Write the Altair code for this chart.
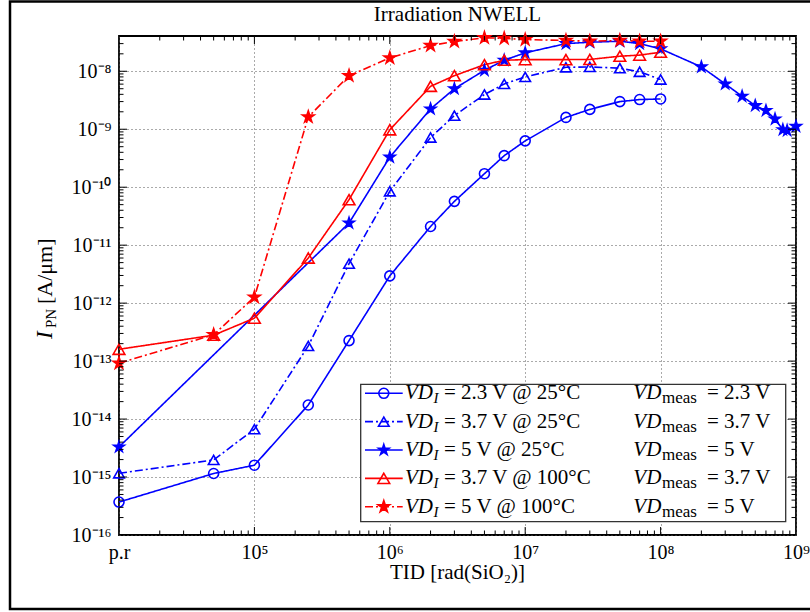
import altair as alt
import pandas as pd

# ---------------- data ----------------
x_common = [1e4, 5e4, 1e5, 2.5e5, 5e5, 1e6, 2e6, 3e6, 5e6, 7e6, 1e7, 2e7, 3e7, 5e7, 7e7, 1e8]
y_23_25 = [3.7e-16, 1.15e-15, 1.6e-15, 1.75e-14, 2.26e-13, 2.95e-12, 2.1e-11, 5.7e-11,
           1.71e-10, 3.5e-10, 6.3e-10, 1.6e-9, 2.2e-9, 3.0e-9, 3.25e-9, 3.33e-9]
y_37_25 = [1.16e-15, 1.97e-15, 6.7e-15, 1.83e-13, 4.8e-12, 8.5e-11, 7.2e-10, 1.72e-9,
           3.97e-9, 6.05e-9, 8.0e-9, 1.17e-8, 1.19e-8, 1.13e-8, 9.8e-9, 7.2e-9]
x_5_25 = [1e4, 5e5, 1e6, 2e6, 3e6, 5e6, 7e6, 1e7, 2e7, 3e7, 5e7, 7e7, 1e8,
          2e8, 3e8, 4e8, 5e8, 6e8, 7e8, 8e8, 8.6e8, 1e9]
y_5_25 = [3.3e-15, 2.41e-11, 3.3e-10, 2.24e-9, 5.0e-9, 1.04e-8, 1.55e-8, 2.08e-8, 3.0e-8,
          3.17e-8, 3.3e-8, 3.0e-8, 2.44e-8, 1.19e-8, 6.05e-9, 3.7e-9, 2.56e-9, 2.1e-9,
          1.5e-9, 9.8e-10, 9.5e-10, 1.12e-9]
y_37_100 = [1.6e-13, 2.8e-13, 5.5e-13, 6.0e-12, 6.1e-11, 9.8e-10, 5.5e-9, 8.4e-9,
            1.3e-8, 1.55e-8, 1.59e-8, 1.59e-8, 1.6e-8, 1.82e-8, 1.9e-8, 2.13e-8]
y_5_100 = [9.2e-14, 2.85e-13, 1.27e-12, 1.63e-9, 8.4e-9, 1.7e-8, 2.78e-8, 3.26e-8,
           3.78e-8, 3.7e-8, 3.52e-8, 3.4e-8, 3.3e-8, 3.4e-8, 3.3e-8, 3.3e-8]

series = ["s1", "s2", "s3", "s4", "s5"]
label_main = ["= 2.3 V @ 25°C", "= 3.7 V @ 25°C", "= 5 V @ 25°C",
              "= 3.7 V @ 100°C", "= 5 V @ 100°C"]
label_meas = ["= 2.3 V", "= 3.7 V", "= 5 V", "= 3.7 V", "= 5 V"]

x_tick_values = [1e4, 1e5, 1e6, 1e7, 1e8, 1e9]
x_tick_labels = ["p.r", "10⁵", "10⁶", "10⁷", "10⁸", "10⁹"]
y_tick_values = [1e-16, 1e-15, 1e-14, 1e-13, 1e-12, 1e-11, 1e-10, 1e-9, 1e-8]
y_tick_labels = ["10⁻¹⁶", "10⁻¹⁵", "10⁻¹⁴", "10⁻¹³", "10⁻¹²", "10⁻¹¹", "10⁻¹⁰", "10⁻⁹", "10⁻⁸"]

# ---------------- styles ----------------
BLUE, RED = "#0000FF", "#FF0000"
FONT = "Liberation Serif"
W, H = 677, 499
XMIN, XMAX = 1e4, 1e9
YMIN, YMAX = 1e-16, 4.06e-8
STAR = ("M0,-1L0.2245,-0.309L0.951,-0.309L0.363,0.118L0.588,0.809L0,0.382"
        "L-0.588,0.809L-0.363,0.118L-0.951,-0.309L-0.2245,-0.309Z")

colors = [BLUE, BLUE, BLUE, RED, RED]
shapes = ["circle", "triangle-up", STAR, "triangle-up", STAR]
fills = ["transparent", "transparent", BLUE, "transparent", RED]
dashes = [[1, 0], [8, 3, 2, 3], [1, 0], [1, 0], [8, 3, 2, 3]]
sizes = [100, 150, 200, 150, 200]

rows = []
for s, xs_, ys_ in [("s1", x_common, y_23_25), ("s2", x_common, y_37_25),
                    ("s3", x_5_25, y_5_25), ("s4", x_common, y_37_100),
                    ("s5", x_common, y_5_100)]:
    for a, b in zip(xs_, ys_):
        rows.append({"series": s, "tid": a, "ipn": b})
df = pd.DataFrame(rows)

xs = alt.Scale(type="log", domain=[XMIN, XMAX], nice=False)
ys = alt.Scale(type="log", domain=[YMIN, YMAX], nice=False)
s_stroke = alt.Scale(domain=series, range=colors)
s_shape = alt.Scale(domain=series, range=shapes)
s_fill = alt.Scale(domain=series, range=fills)
s_dash = alt.Scale(domain=series, range=dashes)
s_size = alt.Scale(domain=series, range=sizes)

xlab_expr = "[" + ",".join("'%s'" % t for t in x_tick_labels) + "][round(log(datum.value)/LN10) - 4]"
ylab_expr = "[" + ",".join("'%s'" % t for t in y_tick_labels) + "][round(log(datum.value)/LN10) + 16]"

x_axis = alt.Axis(values=x_tick_values, labelExpr=xlab_expr, grid=True, gridDash=[1, 3],
                  gridColor="#555555", gridWidth=1, gridOpacity=1, ticks=False, tickSize=0, domain=False,
                  labelFont=FONT, labelFontSize=20, labelColor="black", labelBaseline="alphabetic",
                  labelPadding=23, labelOverlap=False, labelFlush=False, title=None)
y_axis = alt.Axis(values=y_tick_values, labelExpr=ylab_expr, grid=True, gridDash=[1, 3],
                  gridColor="#555555", gridWidth=1, gridOpacity=1, ticks=False, tickSize=0, domain=False,
                  labelFont=FONT, labelFontSize=20, labelColor="black", labelBaseline="middle",
                  labelPadding=8, labelOverlap=False, labelFlush=False, title=None)


def X(field):
    return alt.X(field, scale=xs, axis=x_axis)


def Y(field):
    return alt.Y(field, scale=ys, axis=y_axis)


base = alt.Chart(df)
lines = base.mark_line(strokeWidth=1.6, clip=False).encode(
    x=X("tid:Q"), y=Y("ipn:Q"),
    stroke=alt.Stroke("series:N", scale=s_stroke, legend=None),
    strokeDash=alt.StrokeDash("series:N", scale=s_dash, legend=None),
    detail="series:N",
)
points = base.mark_point(strokeWidth=1.6, opacity=1, clip=False).encode(
    x=X("tid:Q"), y=Y("ipn:Q"),
    stroke=alt.Stroke("series:N", scale=s_stroke, legend=None),
    fill=alt.Fill("series:N", scale=s_fill, legend=None),
    shape=alt.Shape("series:N", scale=s_shape, legend=None),
    size=alt.Size("series:N", scale=s_size, legend=None),
)

# ---------------- inward ticks (matlab style box) ----------------
x_major_ticks = [1e5, 1e6, 1e7, 1e8]
x_minor_ticks = [k * 10 ** d for d in range(4, 9) for k in range(2, 10)]
y_major_ticks = [1e-15, 1e-14, 1e-13, 1e-12, 1e-11, 1e-10, 1e-9, 1e-8]
y_minor_ticks = [k * 10.0 ** d for d in range(-16, -7) for k in range(2, 10) if k * 10.0 ** d <= YMAX]

tick_layers = []
for vals, L in [(x_major_ticks, 8), (x_minor_ticks, 4.5)]:
    c = alt.Chart(pd.DataFrame({"v": vals}))
    tick_layers.append(c.mark_rule(color="black", strokeWidth=1).encode(
        x=X("v:Q"), y=alt.value(H), y2=alt.value(H - L)))
    tick_layers.append(c.mark_rule(color="black", strokeWidth=1).encode(
        x=X("v:Q"), y=alt.value(0), y2=alt.value(L)))
for vals, L in [(y_major_ticks, 8), (y_minor_ticks, 4.5)]:
    c = alt.Chart(pd.DataFrame({"v": vals}))
    tick_layers.append(c.mark_rule(color="black", strokeWidth=1).encode(
        y=Y("v:Q"), x=alt.value(0), x2=alt.value(L)))
    tick_layers.append(c.mark_rule(color="black", strokeWidth=1).encode(
        y=Y("v:Q"), x=alt.value(W), x2=alt.value(W - L)))

# ---------------- texts ----------------
one = alt.Chart(pd.DataFrame({"t": [""]}))
title = one.mark_text(font=FONT, fontSize=21, align="center", baseline="alphabetic").encode(
    x=alt.value(W / 2), y=alt.value(-15), text=alt.value("Irradiation NWELL"))
xtitle = one.mark_text(font=FONT, fontSize=21, align="center", baseline="alphabetic").encode(
    x=alt.value(W / 2), y=alt.value(543), text=alt.value("TID [rad(SiO₂)]"))
yt_I = one.mark_text(font=FONT, fontSize=23, fontStyle="italic", angle=270, align="left",
                     baseline="alphabetic").encode(x=alt.value(-67), y=alt.value(303), text=alt.value("I"))
yt_PN = one.mark_text(font=FONT, fontSize=15, angle=270, align="left",
                      baseline="alphabetic").encode(x=alt.value(-63), y=alt.value(292), text=alt.value("PN"))
yt_unit = one.mark_text(font=FONT, fontSize=22, angle=270, align="left",
                        baseline="alphabetic").encode(x=alt.value(-67), y=alt.value(268), text=alt.value("[A/μm]"))

# outer figure frame
frame = one.mark_rect(fill=None, stroke="black", strokeWidth=2.5).encode(
    x=alt.value(-109), x2=alt.value(720), y=alt.value(-34.5), y2=alt.value(573))

# ---------------- legend ----------------
leg_df = pd.DataFrame({"series": series, "main": label_main, "meas": label_meas,
                       "idx": list(range(len(series)))})
leg = alt.Chart(leg_df).transform_calculate(ly="357.3 + 28.35 * datum.idx")
leg_box = one.mark_rect(fill="white", stroke="#333333", strokeWidth=1.3).encode(
    x=alt.value(241.7), x2=alt.value(666.7), y=alt.value(348.3), y2=alt.value(485.7))
ly = alt.Y("ly:Q", scale=None)
leg_line = leg.mark_rule(strokeWidth=1.6).encode(
    x=alt.value(246), x2=alt.value(283.7), y=ly,
    stroke=alt.Stroke("series:N", scale=s_stroke, legend=None),
    strokeDash=alt.StrokeDash("series:N", scale=s_dash, legend=None))
leg_pt = leg.mark_point(strokeWidth=1.6, opacity=1).encode(
    x=alt.value(264.8), y=ly,
    stroke=alt.Stroke("series:N", scale=s_stroke, legend=None),
    fill=alt.Fill("series:N", scale=s_fill, legend=None),
    shape=alt.Shape("series:N", scale=s_shape, legend=None),
    size=alt.Size("series:N", scale=s_size, legend=None))
LFS = 21
leg_vd1 = leg.mark_text(font=FONT, fontSize=LFS, fontStyle="italic", align="left", baseline="middle").encode(
    x=alt.value(286), y=ly, text=alt.value("VD"))
leg_i = leg.mark_text(font=FONT, fontSize=15, fontStyle="italic", align="left", baseline="middle", dy=5).encode(
    x=alt.value(314.5), y=ly, text=alt.value("I"))
leg_main = leg.mark_text(font=FONT, fontSize=LFS, align="left", baseline="middle").encode(
    x=alt.value(325), y=ly, text="main:N")
leg_vd2 = leg.mark_text(font=FONT, fontSize=LFS, fontStyle="italic", align="left", baseline="middle").encode(
    x=alt.value(514.3), y=ly, text=alt.value("VD"))
leg_meas_sub = leg.mark_text(font=FONT, fontSize=17, align="left", baseline="middle", dy=5).encode(
    x=alt.value(543), y=ly, text=alt.value("meas"))
leg_meas = leg.mark_text(font=FONT, fontSize=LFS, align="left", baseline="middle").encode(
    x=alt.value(588), y=ly, text="meas:N")

chart = alt.layer(
    lines, points, *tick_layers, title, xtitle, yt_I, yt_PN, yt_unit, frame,
    leg_box, leg_line, leg_pt, leg_vd1, leg_i, leg_main, leg_vd2, leg_meas_sub, leg_meas,
).properties(
    width=W, height=H,
    autosize=alt.AutoSizeParams(type="none"),
    padding={"left": 119, "top": 36, "right": 14, "bottom": 77},
    background="white",
).configure_view(stroke="black", strokeWidth=1.8)

chart.save("out.html", embed_options={"renderer": "svg", "actions": False})
